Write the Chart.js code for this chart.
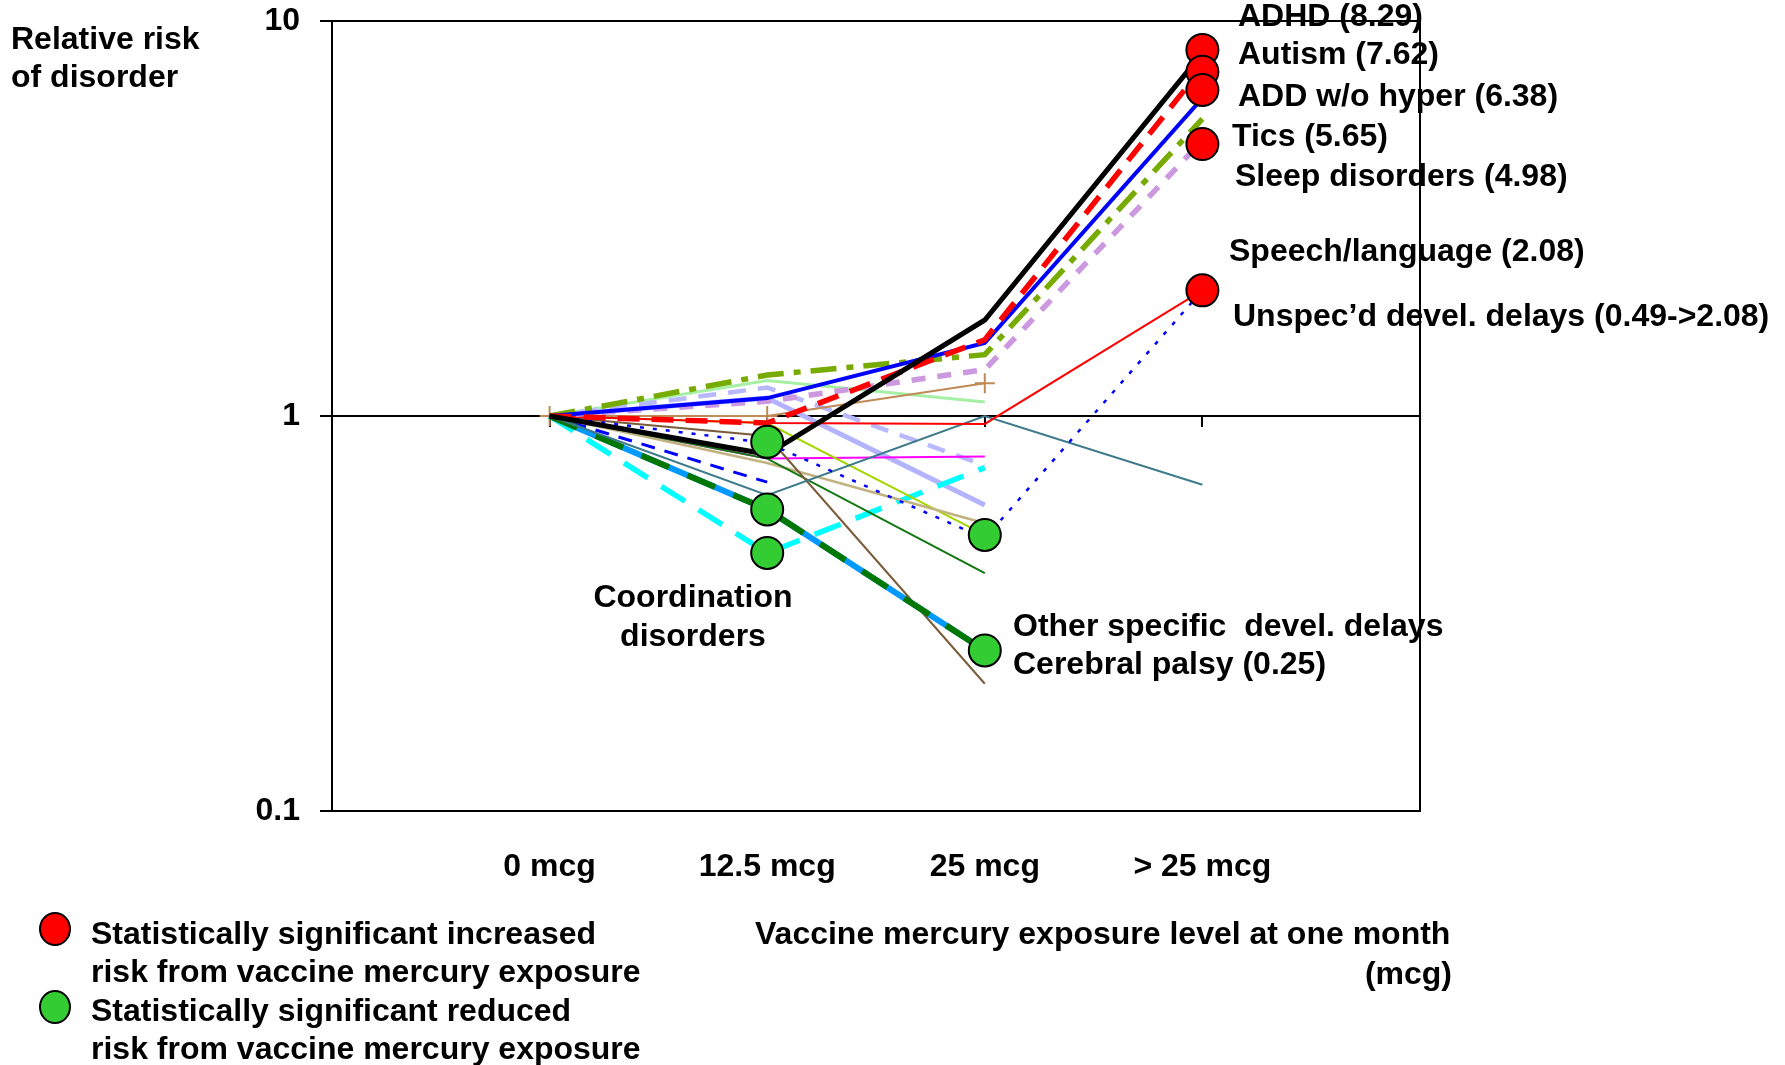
<!DOCTYPE html>
<html>
<head>
<meta charset="utf-8">
<script src="https://cdn.jsdelivr.net/npm/chart.js@4.4.1/dist/chart.umd.min.js"></script>
<style>
  body { margin: 0; background: #fff; }
  #wrap { width: 1785px; height: 1065px; }
</style>
</head>
<body>
<div id="wrap"><canvas id="chart" width="1785" height="1065"></canvas></div>
<script>
// exposure levels (x positions 1..4 on a 0..5 axis)
const doseLabels = ['0 mcg', '12.5 mcg', '25 mcg', '> 25 mcg'];
const dosePos = [1, 2, 3, 4];
const yTicks = [0.1, 1, 10];

// relative risk per exposure level
const adhd = [1, 0.80, 1.75, 8.29];
const autism = [1, 0.96, 1.56, 7.62];
const addNoHyper = [1, 1.11, 1.53, 6.38];
const tics = [1, 1.27, 1.43, 5.65];
const sleepDisorders = [1, 1.09, 1.31, 4.98];
const speechLanguage = [1, 0.96, 0.955, 2.08];
const unspecDelays = [1, 0.855, 0.49, 2.08];
const tealThin = [1, 0.63, 1.0, 0.67];
const paleGreen = [1, 1.23, 1.085, null];
const lavenderDash = [1, 1.18, 0.75, null];
const lavenderSolid = [1, 1.11, 0.595, null];
const brownPlus = [1, 1.0, 1.21, null];
const magentaThin = [1, 0.78, 0.79, null];
const cyanDash = [1, 0.45, 0.74, null];
const blueDash = [1, 0.68, null, null];
const yellowGreenThin = [1, 0.96, 0.50, null];
const tanThin = [1, 0.76, 0.535, null];
const darkGreenThin = [1, 0.78, 0.40, null];
const brownThin = [1, 0.89, 0.21, null];
const grayThin = [1, 0.58, null, null];
const cerebralPalsy = [1, 0.58, 0.255, null];
const otherSpecific = [1, 0.58, 0.255, null];

// significance markers
const increasedX = [4, 4, 4, 4, 4];
const increasedY = [8.45, 7.44, 6.69, 4.88, 2.08];
const reducedX = [2, 2, 2, 3, 3];
const reducedY = [0.86, 0.58, 0.45, 0.50, 0.255];

function pts(vals) {
    return vals.map(function (v, i) { return { x: dosePos[i], y: v }; });
}

function line(data, color, width, dash, extra) {
    return Object.assign({
        type: 'line',
        data: pts(data),
        borderColor: color,
        backgroundColor: color,
        borderWidth: width,
        borderDash: dash || [],
        pointRadius: 0,
        fill: false,
        tension: 0,
        spanGaps: false
    }, extra || {});
}

let data_set = [];
// markers on top
data_set.push({
    type: 'scatter',
    data: increasedX.map(function (x, i) { return { x: x, y: increasedY[i] }; }),
    backgroundColor: '#ff0000', borderColor: '#000', borderWidth: 2, pointRadius: 16
});
data_set.push({
    type: 'scatter',
    data: reducedX.map(function (x, i) { return { x: x, y: reducedY[i] }; }),
    backgroundColor: '#33cc33', borderColor: '#000', borderWidth: 2, pointRadius: 16
});
data_set.push(line(adhd, '#000000', 5));
data_set.push(line(autism, '#ff0000', 5.5, [22, 12]));
data_set.push(line(addNoHyper, '#0000ff', 4));
data_set.push(line(tics, '#77ab00', 5.5, [26, 10, 7, 10]));
data_set.push(line(sleepDisorders, '#cc99e0', 5.5, [14, 12]));
data_set.push(line(speechLanguage, '#ff0000', 2));
data_set.push(line(unspecDelays, '#0000ff', 2.5, [4, 9]));
data_set.push(line(tealThin, '#3d7a8a', 2));
data_set.push(line(otherSpecific, '#007700', 6, [30, 20]));
data_set.push(line(cerebralPalsy, '#0099ff', 6));
data_set.push(line(grayThin, '#555555', 2));
data_set.push(line(brownThin, '#7a5c3a', 2));
data_set.push(line(darkGreenThin, '#117711', 2));
data_set.push(line(tanThin, '#c2b280', 2.5));
data_set.push(line(yellowGreenThin, '#a6d600', 2));
data_set.push(line(blueDash, '#0000ff', 3, [14, 10]));
data_set.push(line(cyanDash, '#00ffff', 5.5, [28, 16]));
data_set.push(line(magentaThin, '#ff00ff', 2));
data_set.push(line(brownPlus, '#bf8a55', 2, [], { pointStyle: 'cross', pointRadius: 10, pointBorderWidth: 2 }));
data_set.push(line(lavenderSolid, '#b3b3ff', 5));
data_set.push(line(lavenderDash, '#b8b8ff', 4.5, [18, 12]));
data_set.push(line(paleGreen, '#a6f0a6', 3));

const FONT = '"Liberation Sans", Arial, sans-serif';

const notes = {
    id: 'notes',
    beforeDatasetsDraw(chart) {
        // small tick marks hanging under the y = 1 axis line
        const c = chart.ctx;
        const xs = chart.scales.x, ys = chart.scales.y;
        const y1 = ys.getPixelForValue(1);
        c.save();
        c.strokeStyle = '#000';
        c.lineWidth = 2;
        dosePos.forEach(function (p) {
            const x = Math.round(xs.getPixelForValue(p));
            c.beginPath();
            c.moveTo(x, y1);
            c.lineTo(x, y1 + 11);
            c.stroke();
        });
        c.restore();
    },
    afterDraw(chart) {
        const c = chart.ctx;
        c.save();
        c.font = 'bold 32px ' + FONT;
        c.fillStyle = '#000';
        c.textBaseline = 'middle';
        c.textAlign = 'left';
        c.fillText('Relative risk', 11, 40);
        c.fillText('of disorder', 11, 78);

        c.fillText('ADHD (8.29)', 1238, 17);
        c.fillText('Autism (7.62)', 1238, 55);
        c.fillText('ADD w/o hyper (6.38)', 1238, 97);
        c.fillText('Tics (5.65)', 1232, 137);
        c.fillText('Sleep disorders (4.98)', 1235, 177);
        c.fillText('Speech/language (2.08)', 1229, 252);
        c.fillText('Unspec\u2019d devel. delays (0.49->2.08)', 1233, 317);

        c.fillText('Other specific  devel. delays', 1013, 627);
        c.fillText('Cerebral palsy (0.25)', 1013, 665);

        c.textAlign = 'center';
        c.fillText('Coordination', 693, 598);
        c.fillText('disorders', 693, 637);

        c.textAlign = 'left';
        c.fillText('Vaccine mercury exposure level at one month', 755, 935);
        c.textAlign = 'right';
        c.fillText('(mcg)', 1452, 975);

        // legend
        c.textAlign = 'left';
        c.fillText('Statistically significant increased', 91, 935);
        c.fillText('risk from vaccine mercury exposure', 91, 973);
        c.fillText('Statistically significant reduced', 91, 1012);
        c.fillText('risk from vaccine mercury exposure', 91, 1050);
        [['#ff0000', 929], ['#33cc33', 1007]].forEach(function (m) {
            c.beginPath();
            c.ellipse(55, m[1], 15, 16, 0, 0, Math.PI * 2);
            c.fillStyle = m[0];
            c.fill();
            c.lineWidth = 2;
            c.strokeStyle = '#000';
            c.stroke();
        });
        c.restore();
    }
};

const ctx = document.getElementById('chart').getContext('2d');
new Chart(ctx, {
    data: { datasets: data_set },
    plugins: [notes],
    options: {
        responsive: false,
        animation: false,
        devicePixelRatio: 1,
        layout: { padding: { top: 21, right: 365, left: 0, bottom: 0 } },
        plugins: { legend: { display: false }, tooltip: { enabled: false } },
        scales: {
            x: {
                type: 'linear',
                min: 0,
                max: 5,
                afterBuildTicks: function (scale) {
                    scale.ticks = [0, 1, 2, 3, 4, 5].map(function (v) { return { value: v }; });
                },
                afterFit: function (scale) {
                    scale.height = 254;
                    scale.paddingLeft = 0;
                    scale.paddingRight = 0;
                },
                grid: {
                    drawTicks: false,
                    lineWidth: 2,
                    color: function (c) { return c.tick && c.tick.value === 5 ? '#000' : 'rgba(0,0,0,0)'; }
                },
                border: { display: true, color: '#000', width: 2 },
                ticks: {
                    padding: 37,
                    maxRotation: 0,
                    autoSkip: false,
                    color: '#000',
                    font: { family: FONT, size: 32, weight: 'bold' },
                    callback: function (v) {
                        const i = dosePos.indexOf(v);
                        return i >= 0 ? doseLabels[i] : '';
                    }
                }
            },
            y: {
                type: 'logarithmic',
                min: 0.1,
                max: 10,
                afterBuildTicks: function (scale) {
                    scale.ticks = yTicks.map(function (v) { return { value: v }; });
                },
                afterFit: function (scale) {
                    scale.width = 332;
                    scale.paddingTop = 0;
                    scale.paddingBottom = 0;
                },
                grid: { color: '#000', lineWidth: 2, drawTicks: true, tickLength: 12, tickColor: '#000' },
                border: { display: true, color: '#000', width: 2 },
                ticks: {
                    padding: 20,
                    color: '#000',
                    font: { family: FONT, size: 32, weight: 'bold' },
                    callback: function (v) { return v === 0.1 ? '0.1' : String(v); }
                }
            }
        }
    }
});
</script>
</body>
</html>
